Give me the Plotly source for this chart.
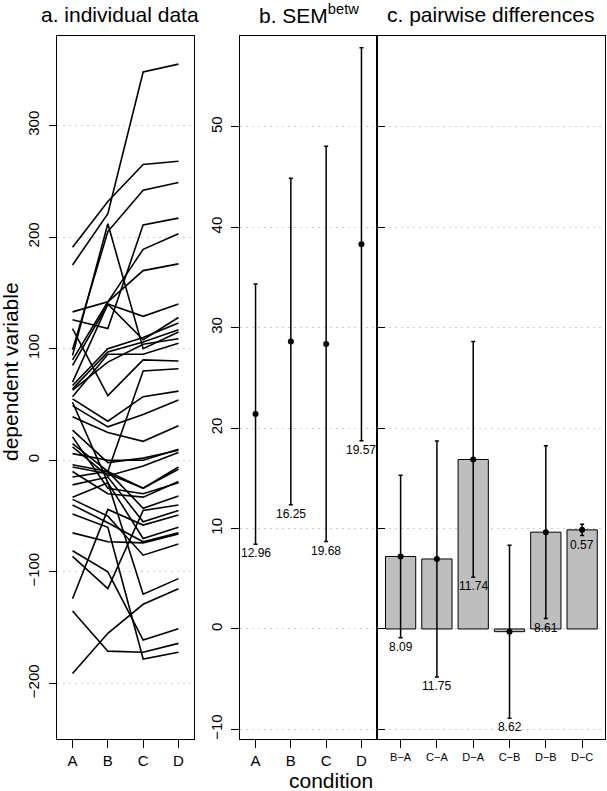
import plotly.graph_objects as go

# ---------------- data ----------------
conditions = ["A", "B", "C", "D"]
cond_a = [191, 175, 133, 126, 99, 94, 90, 85, 118, 70, 67, 64, 63, 57, 15, 55, 49, 39, 6, 27,
          12, -4, -6, 21, -10, -15, -22, -124, -33, -40, -65, 52, -86, -35, -48, -81, -135, -191]
cond_b = [232, 221, 142, 118, 205, 212, 142, 140, 58, 140, 100, 97, 88, 95, -10, 35, 30, 25, 0, -2,
          -14, -10, -12, -25, -30, -10, -15, -44, -20, -56, -73, -20, -115, -50, -60, -100, -171, -155]
cond_c = [265, 348, 189, 211, 242, 100, 170, 129, 90, 108, 110, 106, 104, 95, 80, 57, 41, 17, 0, 2,
          -5, -25, -25, -30, -33, -43, -55, -58, -70, -73, -74, -120, -45, -85, -178, -161, -172, -129]
cond_d = [268, 355, 203, 217, 249, 115, 176, 140, 89, 128, 123, 117, 109, 105, 82, 62, 54, 31, 10, 9,
          7, -6, -8, -20, -19, -32, -45, -49, -60, -65, -66, -106, -40, -75, -172, -151, -164, -115]

sem_means = [21.40, 28.63, 28.39, 38.31]
sem_halfwidth = [12.96, 16.25, 19.68, 19.57]

diff_labels = ["B\u2212A", "C\u2212A", "D\u2212A", "C\u2212B", "D\u2212B", "D\u2212C"]
diff_means = [7.22, 6.97, 16.88, -0.27, 9.64, 9.87]
diff_halfwidth = [8.09, 11.75, 11.74, 8.62, 8.61, 0.57]

panel_a_ticks = [-200, -100, 0, 100, 200, 300]
panel_b_ticks = [-10, 0, 10, 20, 30, 40, 50]

# ---------------- geometry helpers ----------------
W, H = 607, 791
def fx(p):
    return p / W
def fy(p):
    return 1 - p / H

FONT = "Liberation Sans, Arial, Helvetica, sans-serif"
GRID = "#cdcdcd"
GRIDDASH = "2px,4px"
BLACK = "#000000"

fig = go.Figure()

# panel a: individual lines
xs, ys = [], []
pos = [1, 2, 3, 4]
for a, b, c, d in zip(cond_a, cond_b, cond_c, cond_d):
    xs += pos + [None]
    ys += [a, b, c, d, None]
fig.add_trace(go.Scatter(x=xs, y=ys, mode="lines", line=dict(color=BLACK, width=1.6),
                         xaxis="x", yaxis="y", hoverinfo="skip", showlegend=False))

# panel b: means with error bars
fig.add_trace(go.Scatter(x=pos, y=sem_means, mode="markers",
                         marker=dict(color=BLACK, size=6),
                         error_y=dict(type="data", array=sem_halfwidth, color=BLACK,
                                      thickness=1.5, width=2),
                         xaxis="x2", yaxis="y2", showlegend=False))

# panel c: bars
dpos = list(range(len(diff_labels)))
fig.add_trace(go.Bar(x=dpos, y=diff_means, width=0.833,
                     marker=dict(color="#bebebe", line=dict(color=BLACK, width=1)),
                     xaxis="x3", yaxis="y3", showlegend=False))
fig.add_trace(go.Scatter(x=dpos, y=diff_means, mode="markers",
                         marker=dict(color=BLACK, size=6),
                         error_y=dict(type="data", array=diff_halfwidth, color=BLACK,
                                      thickness=1.5, width=2),
                         xaxis="x3", yaxis="y3", showlegend=False))

ydom = [fy(739), fy(36)]
common_axis = dict(showline=True, linecolor=BLACK, linewidth=1, mirror=True,
                   zeroline=False, tickcolor=BLACK, tickwidth=1, automargin=False)

fig.update_layout(
    template="none",
    width=W, height=H, margin=dict(l=0, r=0, t=0, b=0),
    paper_bgcolor="white", plot_bgcolor="white",
    font=dict(family=FONT, color=BLACK),
    showlegend=False,
    xaxis=dict(domain=[fx(57), fx(194)], range=[0.56, 4.44], anchor="y",
               tickvals=pos, ticktext=conditions, ticks="outside", ticklen=8,
               showgrid=False, tickfont=dict(size=15, color=BLACK), **common_axis),
    yaxis=dict(domain=ydom, range=[-249.7, 380.2], anchor="x",
               tickvals=panel_a_ticks, tickangle=-90, ticks="outside", ticklen=7,
               ticklabelstandoff=4,
               showgrid=True, gridcolor=GRID, griddash=GRIDDASH, gridwidth=1,
               tickfont=dict(size=15, color=BLACK), **common_axis),
    xaxis2=dict(domain=[fx(240), fx(377)], range=[0.56, 4.44], anchor="y2",
                tickvals=pos, ticktext=conditions, ticks="outside", ticklen=8,
                showgrid=False, tickfont=dict(size=15, color=BLACK), **common_axis),
    yaxis2=dict(domain=ydom, range=[-10.96, 59.06], anchor="x2",
                tickvals=panel_b_ticks, tickangle=-90, ticks="outside", ticklen=8,
                ticklabelstandoff=3,
                showgrid=True, gridcolor=GRID, griddash=GRIDDASH, gridwidth=1,
                tickfont=dict(size=15, color=BLACK), **common_axis),
    xaxis3=dict(domain=[fx(377), fx(605)], range=[-0.65, 5.63], anchor="y3",
                tickvals=dpos, ticktext=diff_labels, ticks="outside", ticklen=8,
                showgrid=False, tickfont=dict(size=11, color=BLACK), **common_axis),
    yaxis3=dict(domain=ydom, range=[-10.96, 59.06], anchor="x3",
                tickvals=panel_b_ticks, ticks="inside", ticklen=8, showticklabels=False,
                showgrid=True, gridcolor=GRID, griddash=GRIDDASH, gridwidth=1,
                **common_axis),
)

ann = []
TF = dict(size=21, color=BLACK, family=FONT)
# titles
ann.append(dict(text="a. individual data", x=fx(120), y=fy(14), xref="paper", yref="paper",
                showarrow=False, font=TF, xanchor="center", yanchor="middle"))
ann.append(dict(text="b. SEM<sup>betw</sup>", x=fx(308.5), y=fy(14), xref="paper", yref="paper",
                showarrow=False, font=TF, xanchor="center", yanchor="middle"))
ann.append(dict(text="c. pairwise differences", x=fx(490), y=fy(14), xref="paper", yref="paper",
                showarrow=False, font=TF, xanchor="center", yanchor="middle"))
# axis titles
ann.append(dict(text="dependent variable", x=fx(10), y=fy(372), xref="paper", yref="paper",
                showarrow=False, font=TF, textangle=-90,
                xanchor="center", yanchor="middle"))
ann.append(dict(text="condition", x=fx(331), y=fy(780), xref="paper", yref="paper",
                showarrow=False, font=TF, xanchor="center", yanchor="middle"))
# value labels
LF = dict(size=12, color=BLACK, family=FONT)
for p, m, h in zip(pos, sem_means, sem_halfwidth):
    ann.append(dict(text=f"{h:.2f}", x=p, y=m - h, xref="x2", yref="y2", showarrow=False,
                    font=LF, xanchor="center", yanchor="middle", yshift=-9))
for p, m, h in zip(dpos, diff_means, diff_halfwidth):
    ann.append(dict(text=f"{h:.2f}", x=p, y=m - h, xref="x3", yref="y3", showarrow=False,
                    font=LF, xanchor="center", yanchor="middle", yshift=-9))
fig.update_layout(annotations=ann)

fig.write_html("out.html", config={"displayModeBar": False},
               post_script="document.body.style.margin='0px';document.body.style.padding='0px';")
